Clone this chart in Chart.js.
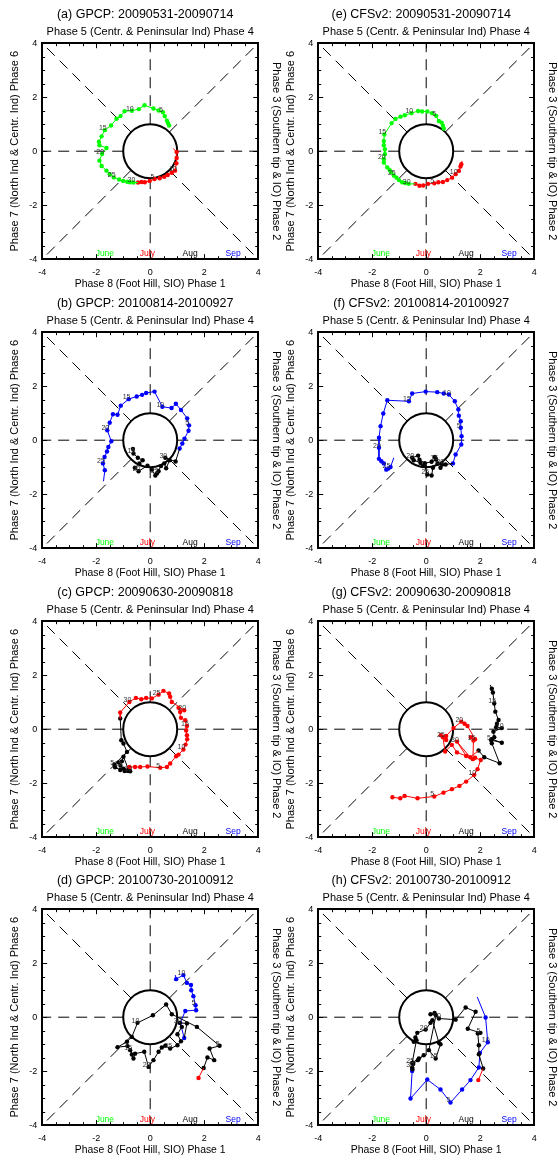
<!DOCTYPE html>
<html><head><meta charset="utf-8">
<script src="https://cdn.jsdelivr.net/npm/chart.js@4"></script>
<style>
html,body{margin:0;padding:0;background:#fff;width:558px;height:1160px;overflow:hidden;position:relative}
canvas{position:absolute;left:0;top:0}
</style></head><body>
<script>
Chart.defaults.font.family = "'Liberation Sans', Arial, Helvetica, sans-serif";
Chart.defaults.color = '#000';

// ---------- text & categories ----------
const monthNames = ['June', 'July', 'Aug', 'Sep'];
const monthColors = ['#00ff00', '#ff0000', '#000000', '#0000ff'];
const tickValues = [-4, -2, 0, 2, 4];
const axisTop = 'Phase 5 (Centr. & Peninsular Ind) Phase 4';
const axisLeft = 'Phase 7 (North Ind & Centr. Ind) Phase 6';
const axisRight = 'Phase 3 (Southern tip & IO) Phase 2';
const axisBottom = 'Phase 8 (Foot Hill, SIO) Phase 1';
const panelTitles = [
  '(a) GPCP: 20090531-20090714', '(b) GPCP: 20100814-20100927',
  '(c) GPCP: 20090630-20090818', '(d) GPCP: 20100730-20100912',
  '(e) CFSv2: 20090531-20090714', '(f) CFSv2: 20100814-20100927',
  '(g) CFSv2: 20090630-20090818', '(h) CFSv2: 20100730-20100912'
];

// ---------- series values [x, y] ----------
const a_jun = [[0.70,0.95],[0.66,1.04],[0.62,1.13],[0.54,1.30],[0.47,1.44],[0.31,1.51],[0.12,1.58],[-0.21,1.70],[-0.42,1.56],[-0.68,1.50],[-0.95,1.48],[-1.10,1.30],[-1.25,1.20],[-1.45,0.95],[-1.68,0.78],[-1.80,0.55],[-1.90,0.35],[-1.88,0.22],[-1.62,0.12],[-1.78,-0.10],[-1.88,-0.35],[-1.80,-0.55],[-1.62,-0.72],[-1.50,-0.85],[-1.35,-0.97],[-1.15,-1.05],[-1.00,-1.10],[-0.85,-1.13],[-0.75,-1.15],[-0.62,-1.16]];
const a_jul = [[-0.45,-1.16],[-0.32,-1.14],[-0.20,-1.15],[-0.02,-1.10],[0.16,-1.03],[0.35,-1.00],[0.52,-0.95],[0.65,-0.88],[0.80,-0.80],[0.92,-0.72],[0.97,-0.45],[0.98,-0.25],[0.98,-0.03],[0.85,0.10]];

const b_aug = [[-0.64,-0.32],[-0.62,-0.49],[-0.46,-0.65],[-0.28,-0.74],[-0.40,-0.86],[-0.57,-1.02],[-0.43,-1.15],[-0.10,-0.94],[0.06,-1.09],[0.19,-1.31],[0.31,-1.15],[0.25,-1.23],[0.40,-0.96],[0.52,-0.86],[0.59,-1.04],[0.72,-0.74],[0.56,-0.65],[0.94,-0.79]];
const b_sep = [[1.09,-0.31],[1.19,-0.12],[1.27,0.06],[1.42,0.35],[1.44,0.55],[1.37,0.81],[1.14,1.12],[0.95,1.35],[0.79,1.19],[0.45,1.24],[0.16,1.80],[-0.15,1.75],[-0.30,1.68],[-0.50,1.62],[-0.80,1.52],[-1.09,1.28],[-1.21,0.94],[-1.38,0.96],[-1.50,0.65],[-1.59,0.37],[-1.44,-0.04],[-1.55,-0.25],[-1.60,-0.42],[-1.69,-0.62],[-1.75,-0.86],[-1.68,-1.11],[-1.73,-1.52]];

const c_jul = [[-0.77,-1.40],[-0.56,-1.40],[-0.37,-1.40],[-0.10,-1.38],[0.37,-1.43],[0.62,-1.40],[0.74,-1.27],[0.96,-1.00],[1.05,-0.94],[1.23,-0.75],[1.31,-0.57],[1.37,-0.37],[1.36,-0.22],[1.33,-0.05],[1.36,0.12],[1.30,0.33],[1.14,0.42],[1.11,0.64],[1.05,0.79],[1.26,0.70],[0.80,1.01],[0.74,1.20],[0.70,1.32],[0.49,1.42],[0.31,1.28],[0.06,1.14],[-0.15,1.16],[-0.33,1.11],[-0.53,1.16],[-0.77,1.01],[-1.11,0.62]];
const c_aug = [[-1.11,0.40],[-1.07,-0.41],[-0.99,-0.53],[-0.86,-0.84],[-1.33,-1.31],[-1.30,-1.41],[-1.11,-1.51],[-0.99,-1.46],[-0.93,-1.53],[-0.74,-1.56],[-0.80,-1.50],[-0.99,-1.02],[-1.05,-1.19],[-1.17,-1.23],[-1.10,-1.35],[-0.95,-1.55],[-0.82,-1.55],[-0.72,-1.58]];

const d_jul = [[1.79,-2.25]];
const d_aug = [[1.98,-1.88],[2.12,-1.49],[2.37,-1.59],[2.20,-1.16],[2.57,-1.06],[1.73,-0.36],[0.80,0.11],[0.59,0.47],[0.10,0.07],[-0.47,-0.21],[-0.68,-0.73],[-0.86,-0.91],[-1.21,-1.11],[-0.84,-1.07],[-0.74,-1.22],[-0.68,-1.38],[-0.62,-1.53],[-0.56,-1.35],[-0.22,-1.28],[-0.06,-1.84],[0.12,-1.59],[0.31,-1.28],[0.43,-1.12],[0.56,-1.06],[0.74,-1.16],[1.01,-1.04],[1.14,-0.89],[1.01,-0.63],[1.17,-0.36],[1.09,-0.21],[1.36,-0.23]];
const d_sep = [[1.26,-0.77],[1.11,-0.21],[1.30,0.23],[1.70,0.26],[1.68,0.44],[1.60,0.78],[1.52,1.00],[1.51,1.19],[1.36,1.27],[1.23,1.56],[0.96,1.41],[0.93,1.56]];

const e_jun = [[0.65,0.84],[0.62,0.94],[0.57,1.06],[0.47,1.12],[0.37,1.31],[0.22,1.41],[0.04,1.47],[-0.15,1.47],[-0.30,1.49],[-0.55,1.41],[-0.79,1.33],[-0.95,1.28],[-1.14,1.19],[-1.28,1.04],[-1.55,0.62],[-1.57,0.38],[-1.57,0.22],[-1.53,0.07],[-1.53,-0.11],[-1.57,-0.30],[-1.57,-0.42],[-1.44,-0.60],[-1.35,-0.70],[-1.30,-0.78],[-1.20,-0.90],[-1.10,-0.98],[-1.01,-1.07],[-0.89,-1.15],[-0.78,-1.18],[-0.65,-1.21]];
const e_jul = [[-0.40,-1.21],[-0.25,-1.28],[-0.11,-1.27],[0.07,-1.21],[0.30,-1.19],[0.45,-1.15],[0.62,-1.14],[0.78,-1.07],[0.96,-0.98],[1.09,-0.85],[1.21,-0.73],[1.27,-0.57],[1.30,-0.48],[1.33,-0.36]];

const f_aug = [[0.32,-0.62],[0.37,-0.72],[0.20,-0.80],[-0.05,-0.85],[-0.25,-0.72],[-0.30,-0.57],[-0.52,-0.65],[-0.46,-0.74],[-0.21,-0.84],[-0.12,-0.96],[-0.05,-0.96],[0.04,-1.27],[0.20,-1.31],[0.25,-1.02],[0.42,-0.86],[0.53,-1.02],[0.59,-0.90],[0.72,-0.90]];
const f_sep = [[0.99,-0.86],[1.09,-0.53],[1.30,-0.16],[1.31,0.15],[1.28,0.46],[1.28,0.70],[1.21,0.91],[1.19,1.14],[1.06,1.44],[0.84,1.69],[0.65,1.73],[0.41,1.78],[-0.02,1.80],[-0.52,1.73],[-0.64,1.44],[-1.44,1.48],[-1.59,0.99],[-1.69,0.52],[-1.75,0.09],[-1.75,-0.28],[-1.75,-0.69],[-1.66,-0.78],[-1.57,-0.86],[-1.48,-1.09],[-1.40,-1.05],[-1.32,-0.99],[-1.20,-0.65]];

const g_jul = [[-1.25,-2.52],[-0.96,-2.56],[-0.80,-2.47],[-0.32,-2.56],[0.30,-2.49],[0.64,-2.35],[0.95,-2.22],[1.23,-2.10],[1.48,-1.94],[1.78,-1.69],[1.90,-1.48],[2.02,-1.14],[1.81,-1.06],[1.73,-1.11],[1.75,-0.42],[1.65,-0.30],[1.81,-0.37],[1.53,0.12],[1.42,0.20],[1.30,0.28],[1.01,0.04],[0.74,-0.25],[0.54,-0.22],[0.74,-0.40],[0.62,-0.30],[0.70,-0.83],[0.95,-0.58],[1.14,-0.86],[1.48,-0.99],[1.14,-0.46],[1.63,-1.04]];
const g_aug = [[1.94,-0.79],[2.15,-1.04],[2.72,-1.26],[2.43,-0.52],[2.40,-0.40],[2.80,-0.50],[2.43,-0.37],[2.52,-0.30],[2.49,-0.09],[2.80,0.04],[2.59,0.07],[2.62,0.20],[2.68,0.34],[2.56,0.65],[2.52,0.95],[2.47,1.36],[2.43,1.50],[2.37,1.64]];

const h_jul = [[1.93,-2.33]];
const h_aug = [[2.11,-1.90],[1.95,-1.37],[1.95,-1.04],[1.91,-0.60],[2.01,-0.58],[1.54,-0.43],[1.83,0.20],[1.46,0.36],[1.09,-0.09],[0.47,-0.05],[0.31,0.16],[0.16,0.11],[0.36,0.07],[0.10,-1.22],[0.35,-1.53],[0.53,-1.00],[0.47,-0.95],[0.23,-0.11],[0.16,-0.21],[-0.02,-0.46],[-0.33,-0.58],[-0.40,-0.75],[-0.46,-0.91],[-0.36,-0.85],[-0.52,-1.69],[-0.27,-1.53],[-0.09,-1.41],[-0.31,-1.59],[-0.48,-1.73],[-0.52,-1.86],[-0.51,-1.93]];
const h_sep = [[-0.52,-1.99],[-0.58,-3.01],[0.04,-2.31],[0.53,-2.68],[0.90,-3.16],[1.33,-2.68],[1.64,-2.33],[1.95,-1.86],[1.99,-1.32],[2.28,-0.93],[2.20,-0.01],[1.89,0.75]];

// segments: month index, first day of month, points
const panels = [
  [{m:0,d:1,pts:a_jun},{m:1,d:1,pts:a_jul}],
  [{m:2,d:14,pts:b_aug},{m:3,d:1,pts:b_sep}],
  [{m:1,d:1,pts:c_jul},{m:2,d:1,pts:c_aug}],
  [{m:1,d:31,pts:d_jul},{m:2,d:1,pts:d_aug},{m:3,d:1,pts:d_sep}],
  [{m:0,d:1,pts:e_jun},{m:1,d:1,pts:e_jul}],
  [{m:2,d:14,pts:f_aug},{m:3,d:1,pts:f_sep}],
  [{m:1,d:1,pts:g_jul},{m:2,d:1,pts:g_aug}],
  [{m:1,d:31,pts:h_jul},{m:2,d:1,pts:h_aug},{m:3,d:1,pts:h_sep}]
];

// ---------- layout ----------
const PLOT = 216;
const plotLeft = [42, 318];
const plotTop = [43, 332, 621, 909];
const monthFrac = [0.29, 0.487, 0.685, 0.884];

// ---------- plugins ----------
const refPlugin = {
  id: 'ref',
  beforeDatasetsDraw(chart) {
    const {ctx, scales: {x, y}} = chart;
    const px = v => x.getPixelForValue(v), py = v => y.getPixelForValue(v);
    ctx.save();
    ctx.strokeStyle = '#000'; ctx.lineWidth = 1; ctx.setLineDash([11, 7]);
    const dirs = [[1,0,4,0],[-1,0,-4,0],[0,1,0,4],[0,-1,0,-4],
                  [Math.SQRT1_2,Math.SQRT1_2,4,4],[-Math.SQRT1_2,Math.SQRT1_2,-4,4],
                  [Math.SQRT1_2,-Math.SQRT1_2,4,-4],[-Math.SQRT1_2,-Math.SQRT1_2,-4,-4]];
    dirs.forEach(([sx, sy, ex, ey]) => {
      ctx.beginPath(); ctx.moveTo(px(sx), py(sy)); ctx.lineTo(px(ex), py(ey)); ctx.stroke();
    });
    ctx.setLineDash([]);
    ctx.lineWidth = 2;
    ctx.beginPath();
    ctx.arc(px(0), py(0), px(1) - px(0), 0, Math.PI * 2);
    ctx.stroke();
    ctx.restore();
  }
};

const labelPlugin = {
  id: 'labels',
  afterDatasetsDraw(chart) {
    const {ctx, scales: {x, y}, chartArea: ca} = chart;
    ctx.save();
    ctx.font = "7px 'Liberation Sans', Arial, sans-serif";
    ctx.fillStyle = '#333'; ctx.textAlign = 'center'; ctx.textBaseline = 'middle';
    chart.data.datasets.forEach(ds => {
      for (let i = 0; i < ds.nReal; i++) {
        const day = ds.day0 + i;
        if (day % 5 === 0) {
          ctx.fillText(String(day), x.getPixelForValue(ds.data[i].x) - 2, y.getPixelForValue(ds.data[i].y) - 2);
        }
      }
    });
    ctx.font = "8.5px 'Liberation Sans', Arial, sans-serif";
    monthNames.forEach((m, i) => {
      ctx.fillStyle = monthColors[i];
      ctx.fillText(m, ca.left + monthFrac[i] * (ca.right - ca.left), ca.bottom - 6);
    });
    ctx.restore();
  }
};

const tickPlugin = {
  id: 'inticks',
  afterDraw(chart) {
    const {ctx, scales: {x, y}, chartArea: ca} = chart;
    ctx.save();
    ctx.strokeStyle = '#000'; ctx.lineWidth = 1;
    for (let k = -7; k <= 7; k++) {
      const v = k / 2;
      const len = (k % 4 === 0) ? 5 : 3;
      const X = Math.round(x.getPixelForValue(v)) + 0.5;
      const Y = Math.round(y.getPixelForValue(v)) + 0.5;
      ctx.beginPath();
      ctx.moveTo(X, ca.bottom); ctx.lineTo(X, ca.bottom - len);
      ctx.moveTo(X, ca.top); ctx.lineTo(X, ca.top + len);
      ctx.moveTo(ca.left, Y); ctx.lineTo(ca.left + len, Y);
      ctx.moveTo(ca.right, Y); ctx.lineTo(ca.right - len, Y);
      ctx.stroke();
    }
    ctx.restore();
  }
};

function axis(position, extra) {
  return Object.assign({
    type: 'linear', position, min: -4, max: 4,
    grid: {display: false, drawTicks: false},
    border: {display: true, color: '#000', width: 2}
  }, extra);
}

function buildPanel(segs, idx) {
  const col = idx < 4 ? 0 : 1, row = idx % 4;
  const cv = document.createElement('canvas');
  const W = 310, H = 300;
  cv.width = W; cv.height = H; cv.style.width = W + 'px'; cv.style.height = H + 'px';
  document.body.appendChild(cv);
  const last = segs.length - 1;
  const datasets = segs.map((s, i) => {
    const n = s.pts.length;
    const data = s.pts.map(([px, py]) => ({x: px, y: py}));
    if (i < last) data.push({x: segs[i + 1].pts[0][0], y: segs[i + 1].pts[0][1]});
    const hideIdx = i === last ? n - 1 : -1;
    const c = monthColors[s.m];
    return {
      data, showLine: true, borderColor: c, backgroundColor: c, borderWidth: 1,
      pointBorderWidth: 0, pointHoverRadius: 0,
      pointRadius: ctx => (ctx.dataIndex >= n || ctx.dataIndex === hideIdx) ? 0 : 2.2,
      day0: s.d, nReal: n
    };
  });
  const setTicks = s => { s.ticks = tickValues.map(v => ({value: v})); };
  const chart = new Chart(cv, {
    type: 'scatter',
    data: {datasets},
    options: {
      responsive: false, animation: false, devicePixelRatio: 1, events: [],
      layout: {padding: {left: 0, right: 0, top: 0, bottom: 0}},
      plugins: {
        legend: {display: false}, tooltip: {enabled: false},
        title: {display: true, text: panelTitles[idx], color: '#000',
                font: {size: 12.5, weight: 'normal'}, padding: {top: 2, bottom: 3}}
      },
      scales: {
        x: axis('bottom', {afterBuildTicks: setTicks,
             ticks: {font: {size: 9}, padding: 8, color: '#000', maxRotation: 0},
             title: {display: true, text: axisBottom, color: '#000', font: {size: 10.4}, padding: {top: -8, bottom: 0}}}),
        y: axis('left', {afterBuildTicks: setTicks,
             ticks: {font: {size: 9}, padding: 5, color: '#000'},
             title: {display: true, text: axisLeft, color: '#000', font: {size: 11}, padding: {top: 0, bottom: 3}}}),
        x2: axis('top', {ticks: {display: false},
             title: {display: true, text: axisTop, color: '#000', font: {size: 11}, padding: {top: 0, bottom: 5}}}),
        y2: axis('right', {ticks: {display: false},
             title: {display: true, text: axisRight, color: '#000', font: {size: 11}, padding: {top: 0, bottom: 11}}})
      }
    },
    plugins: [refPlugin, labelPlugin, tickPlugin]
  });
  const ca = chart.chartArea;
  chart.options.layout.padding = {
    left: 0, top: 0,
    right: (ca.right - ca.left) - PLOT,
    bottom: (ca.bottom - ca.top) - PLOT
  };
  chart.update();
  const cb = chart.chartArea;
  cv.style.left = Math.round(plotLeft[col] - cb.left) + 'px';
  cv.style.top = Math.round(plotTop[row] - cb.top) + 'px';
}

panels.forEach((segs, i) => buildPanel(segs, i));
</script>
</body></html>
